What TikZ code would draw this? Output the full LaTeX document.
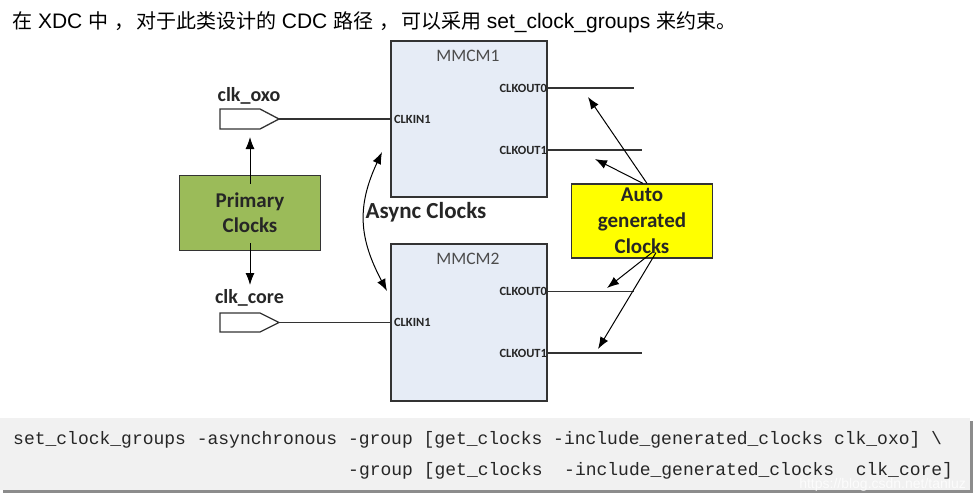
\documentclass[tikz,border=0pt]{standalone}
\usepackage{fontspec}
\setmainfont{Liberation Sans}
\setmonofont{Liberation Mono}
\newfontfamily\calfont{Carlito}
\newfontfamily\cjkfont{Noto Sans CJK SC}
\newcommand\cjk[1]{{\cjkfont\fontsize{20}{23}\selectfont #1}}
\usepackage{tikz}
\usetikzlibrary{arrows.meta}

\definecolor{mmcmblue}{HTML}{E6ECF6}
\definecolor{primgreen}{HTML}{9BBB59}
\definecolor{autoyellow}{HTML}{FFFF00}
\definecolor{codegray}{HTML}{F1F1F1}
\definecolor{edgegray}{HTML}{333333}

\tikzset{
  mmcm/.style={draw=edgegray, line width=1.3pt, fill=mmcmblue, minimum width=156, minimum height=156, inner sep=0},
  mmcmname/.style={text=black!70, font=\calfont\fontsize{17.5}{17.5}\selectfont, inner sep=0},
  pinlabel/.style={text=black!85, font=\calfont\bfseries\fontsize{12.5}{12.5}\selectfont, inner sep=0.5pt},
  portline/.style={draw=edgegray, line width=1.3pt, fill=white},
  portname/.style={font=\calfont\bfseries\fontsize{20}{20}\selectfont, text=black!85, inner sep=0},
  tag/.style={draw=edgegray, line width=1.2pt, align=center, font=\calfont\bfseries\fontsize{21}{25}\selectfont, text=black!85, inner sep=0},
  wire/.style={line width=1.3pt, draw=edgegray},
  arr/.style={line width=1pt, -{Latex[length=12pt,width=9pt]}},
  codetext/.style={font=\ttfamily\fontsize{18}{18}\selectfont, text=black!85, inner sep=0, anchor=base west}
}

\begin{document}
\begin{tikzpicture}[x=1pt,y=-1pt]
\useasboundingbox (0,0) rectangle (976,499);

% title line
\node[anchor=base west, inner sep=0, font=\fontsize{21}{24}\selectfont] (title) at (12,28)
  {\cjk{在} XDC \cjk{中} \cjk{，}\hspace{2pt}\cjk{对于此类设计的} CDC \cjk{路径} \cjk{，}\hspace{2pt}\cjk{可以采用} set\_clock\_groups \cjk{来约束。}};

% the two MMCMs
\node[mmcm] (mmcm1) at (469,119) {};
\node[mmcm, minimum height=157] (mmcm2) at (469,322.5) {};
\node[mmcmname] (m1name) at (468,56) {MMCM1};
\node[mmcmname] (m2name) at (468,259) {MMCM2};

\node[pinlabel, anchor=west] (m1in) at ([xshift=3]mmcm1.west) {CLKIN1};
\node[pinlabel, anchor=east] (m1o0) at (mmcm1.east |- 0,88) {CLKOUT0};
\node[pinlabel, anchor=east] (m1o1) at (mmcm1.east |- 0,150) {CLKOUT1};
\node[pinlabel, anchor=west] (m2in) at ([xshift=3]mmcm2.west) {CLKIN1};
\node[pinlabel, anchor=east] (m2o0) at (mmcm2.east |- 0,291) {CLKOUT0};
\node[pinlabel, anchor=east] (m2o1) at (mmcm2.east |- 0,353) {CLKOUT1};

%-------------------------------------
% output stubs
\coordinate (o10) at (634,88);
\coordinate (o11) at (642,150);
\coordinate (o20) at (634,291.5);
\coordinate (o21) at (642,353);
\draw[wire] (mmcm1.east |- o10) -- (o10);
\draw[wire] (mmcm1.east |- o11) -- (o11);
\draw[wire] (mmcm2.east |- o20) -- (o20);
\draw[wire] (mmcm2.east |- o21) -- (o21);

% input ports
\draw[portline] (220,109) -- (260,109) -- (279,119) -- (260,129) -- (220,129) -- cycle;
\draw[portline] (220,313) -- (260,313) -- (279,322.5) -- (260,332) -- (220,332) -- cycle;
\coordinate (oxo) at (279,119);
\coordinate (core) at (279,322.5);
\node[portname] (oxoname) at (249,96) {clk\_oxo};
\node[portname] (corename) at (249.5,298) {clk\_core};
\draw[wire] (oxo) -- (mmcm1.west |- oxo);
\draw[wire] (core) -- (mmcm2.west |- core);

% primary clocks
\node[tag, fill=primgreen, minimum width=141, minimum height=75] (prim) at (250,213) {Primary\\Clocks};
\coordinate (upend) at (250,137);
\coordinate (downend) at (250,285);
\draw[arr] ([yshift=-9]prim.north) -- (upend);
\draw[arr] ([yshift=8]prim.south) -- (downend);

% async clocks
\node[tag, draw=none, font=\calfont\bfseries\fontsize{23}{23}\selectfont] (async) at (426,212) {Async Clocks};
\coordinate (atop) at (382,152);
\coordinate (abot) at (387,291);
\draw[arr, {Latex[length=12pt,width=9pt]}-{Latex[length=12pt,width=9pt]}] (atop) to[out=245, in=118, looseness=1.1] (abot);

% generated clocks
\node[tag, fill=autoyellow, minimum width=141, minimum height=74, font=\calfont\bfseries\fontsize{21}{26}\selectfont] (auto) at (642,221) {Auto\\generated\\Clocks};
\coordinate (g10) at (588,97);
\coordinate (g11) at (595,159);
\coordinate (g20) at (607,288);
\coordinate (g21) at (598,349);
\draw[arr] ([xshift=5]auto.north) -- (g10);
\draw[arr] ([xshift=1]auto.north) -- (g11);
\draw[arr] ([xshift=10,yshift=6]auto.south) -- (g20);
\draw[arr] ([xshift=14,yshift=6]auto.south) -- (g21);

%-------------------------------------
% constraint
\fill[black!45] (3,421) rectangle (973,493);
\fill[codegray] (0,418) rectangle (970,490);
\node[codetext] (cmd1) at (13,444) {set\_clock\_groups -asynchronous -group [get\_clocks -include\_generated\_clocks clk\_oxo] \textbackslash};
\node[codetext] (cmd2) at (348,475) {-group [get\_clocks~~-include\_generated\_clocks~~clk\_core]};
\node[anchor=base east, inner sep=0, text=white, opacity=0.8, font=\fontsize{14}{14}\selectfont] (mark) at (966,488) {https://blog.csdn.net/tanluz};
\end{tikzpicture}
\end{document}
